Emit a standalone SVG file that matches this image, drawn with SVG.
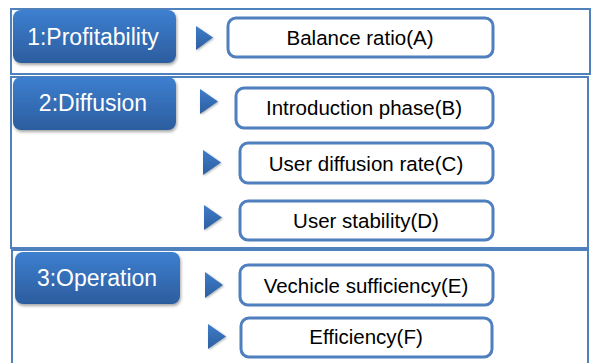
<svg xmlns="http://www.w3.org/2000/svg" width="593" height="363" viewBox="0 0 593 363">
<style>
.panel{fill:#fff;stroke:#4f81bd;stroke-width:2}
.head{fill:url(#hg);filter:url(#sh)}
.htxt{font-family:"Liberation Sans",Arial,sans-serif;font-size:23px;fill:#fff;text-anchor:middle}
.box{fill:#fff;stroke:#4f7fbe;stroke-width:3}
.btxt{font-family:"Liberation Sans",Arial,sans-serif;font-size:20.5px;fill:#000;text-anchor:middle}
.tri{fill:url(#tg);filter:url(#sh2)}
</style>
<defs>
<linearGradient id="hg" x1="0" y1="0" x2="0" y2="1">
<stop offset="0" stop-color="#3d7fd0"/>
<stop offset="1" stop-color="#2c5d9e"/>
</linearGradient>
<linearGradient id="tg" x1="0" y1="0" x2="0" y2="1">
<stop offset="0" stop-color="#3f7ccb"/>
<stop offset="1" stop-color="#2d5f9f"/>
</linearGradient>
<filter id="sh" x="-10%" y="-10%" width="125%" height="140%">
<feDropShadow dx="1" dy="2" stdDeviation="1.5" flood-color="#000" flood-opacity="0.35"/>
</filter>
<filter id="sh2" x="-30%" y="-30%" width="180%" height="180%">
<feDropShadow dx="1" dy="1" stdDeviation="1" flood-color="#000" flood-opacity="0.3"/>
</filter>
</defs>
<rect class="panel" x="11" y="9" width="579" height="65"/>
<rect class="panel" x="11" y="77" width="577" height="171"/>
<rect class="panel" x="12" y="250" width="576" height="125"/>
<g id="h1"><rect class="head" x="13" y="10" width="163" height="53" rx="8"/><text class="htxt" x="93" y="45">1:Profitability</text></g>
<g id="h2"><rect class="head" x="13" y="77" width="163" height="53" rx="8"/><text class="htxt" x="93" y="111">2:Diffusion</text></g>
<g id="h3"><rect class="head" x="15" y="252" width="165" height="52" rx="8"/><text class="htxt" x="97" y="286">3:Operation</text></g>
<g id="connectors">
<polygon class="tri" points="196,26 213,37.5 196,50"/>
<polygon class="tri" points="200,89 218,101.5 200,114"/>
<polygon class="tri" points="203,150 221,162.5 203,175"/>
<polygon class="tri" points="204,205 222,217.5 204,230"/>
<polygon class="tri" points="205,272 223,285 205,298"/>
<polygon class="tri" points="208,324 226,336.5 208,349"/>
</g>
<g id="nA"><rect class="box" x="228" y="18" width="265" height="39" rx="8"/><text class="btxt" x="360" y="44.5">Balance ratio(A)</text></g>
<g id="nB"><rect class="box" x="236" y="88" width="257" height="40" rx="8"/><text class="btxt" x="364" y="115">Introduction phase(B)</text></g>
<g id="nC"><rect class="box" x="240" y="143" width="253" height="40" rx="8"/><text class="btxt" x="366" y="170.5">User diffusion rate(C)</text></g>
<g id="nD"><rect class="box" x="240" y="201" width="253" height="39" rx="8"/><text class="btxt" x="366" y="227.5">User stability(D)</text></g>
<g id="nE"><rect class="box" x="240" y="265" width="253" height="40" rx="8"/><text class="btxt" x="366" y="293">Vechicle sufficiency(E)</text></g>
<g id="nF"><rect class="box" x="241" y="318" width="251" height="39" rx="8"/><text class="btxt" x="366" y="344">Efficiency(F)</text></g>
</svg>
